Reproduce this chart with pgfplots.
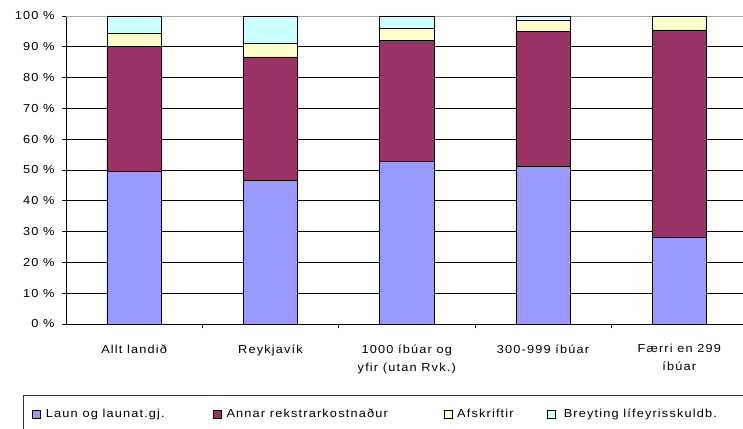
\documentclass[border=0pt]{standalone}
\usepackage{fontspec}
\setmainfont{Liberation Sans}[LetterSpace=10, FakeStretch=1.1]
\usepackage{pgfplots}
\pgfplotsset{compat=1.18}
\definecolor{cLaun}{HTML}{9999FF}
\definecolor{cAnnar}{HTML}{993366}
\definecolor{cAfsk}{HTML}{FFFFCC}
\definecolor{cBreyt}{HTML}{CCFFFF}
\newcommand{\lf}{\fontsize{11.6}{18}\selectfont}

\begin{document}
\begin{tikzpicture}[x=1pt,y=1pt]
\useasboundingbox (0,0) rectangle (743,428);
\clip (0,0) rectangle (743,428);
\begin{axis}[
    at={(66pt,104pt)}, anchor=south west,
    scale only axis, width=681.5pt, height=308pt,
    ybar stacked, bar width=54.5pt,
    xmin=-0.5, xmax=4.5, ymin=0, ymax=100,
    axis x line*=bottom, axis y line*=left,
    axis line style={black, line width=0.7pt},
    xtick={0,1,2,3,4},
    xticklabels={Allt landið, Reykjavík, {1000 íbúar og\\yfir (utan Rvk.)}, 300-999 íbúar, {Færri en 299\\íbúar}},
    minor xtick={0.5,1.5,2.5,3.5},
    major x tick style={draw=none},
    minor x tick style={black, line width=0.7pt},
    minor tick length=4pt, major tick length=4pt,
    tick align=outside,
    ytick={0,10,...,90},
    yticklabels={0 \%,10 \%,20 \%,30 \%,40 \%,50 \%,60 \%,70 \%,80 \%,90 \%},
    extra y ticks={100}, extra y tick labels={100 \%},
    extra y tick style={grid style={gray!70, line width=0.8pt}},
    ytick style={black, line width=0.7pt},
    ymajorgrids, grid style={black, line width=0.7pt},
    tick label style={font=\lf},
    xticklabel style={align=center, yshift=-13pt},
    yticklabel style={xshift=-4pt},
    legend style={at={(-0.0631,-0.2305)}, anchor=north west,
        legend columns=-1, draw=black!80, line width=0.7pt,
        inner xsep=9pt, inner ysep=11.5pt, font=\lf,
        nodes={inner xsep=0pt}},
    legend image code/.code={\draw[#1, line width=0.6pt] (0pt,-4pt) rectangle (8pt,4pt);},
    every axis plot/.append style={draw=black, line width=0.6pt},
]
\addplot[fill=cLaun] coordinates {(0,49.6) (1,46.6) (2,52.9) (3,51.2) (4,28.3)};
\addplot[fill=cAnnar] coordinates {(0,40.4) (1,40.1) (2,39.2) (3,43.7) (4,67.2)};
\addplot[fill=cAfsk] coordinates {(0,4.5) (1,4.3) (2,3.9) (3,3.7) (4,4.5)};
\addplot[fill=cBreyt] coordinates {(0,5.5) (1,9.0) (2,4.0) (3,1.4) (4,0)};
\legend{\makebox[172pt][l]{\hspace{5pt}Laun og launat.gj.},
        \makebox[222pt][l]{\hspace{5pt}Annar rekstrarkostnaður},
        \makebox[95pt][l]{\hspace{5pt}Afskriftir},
        \makebox[220pt][l]{\hspace{8pt}Breyting lífeyrisskuldb.}}
\end{axis}
\end{tikzpicture}
\end{document}
